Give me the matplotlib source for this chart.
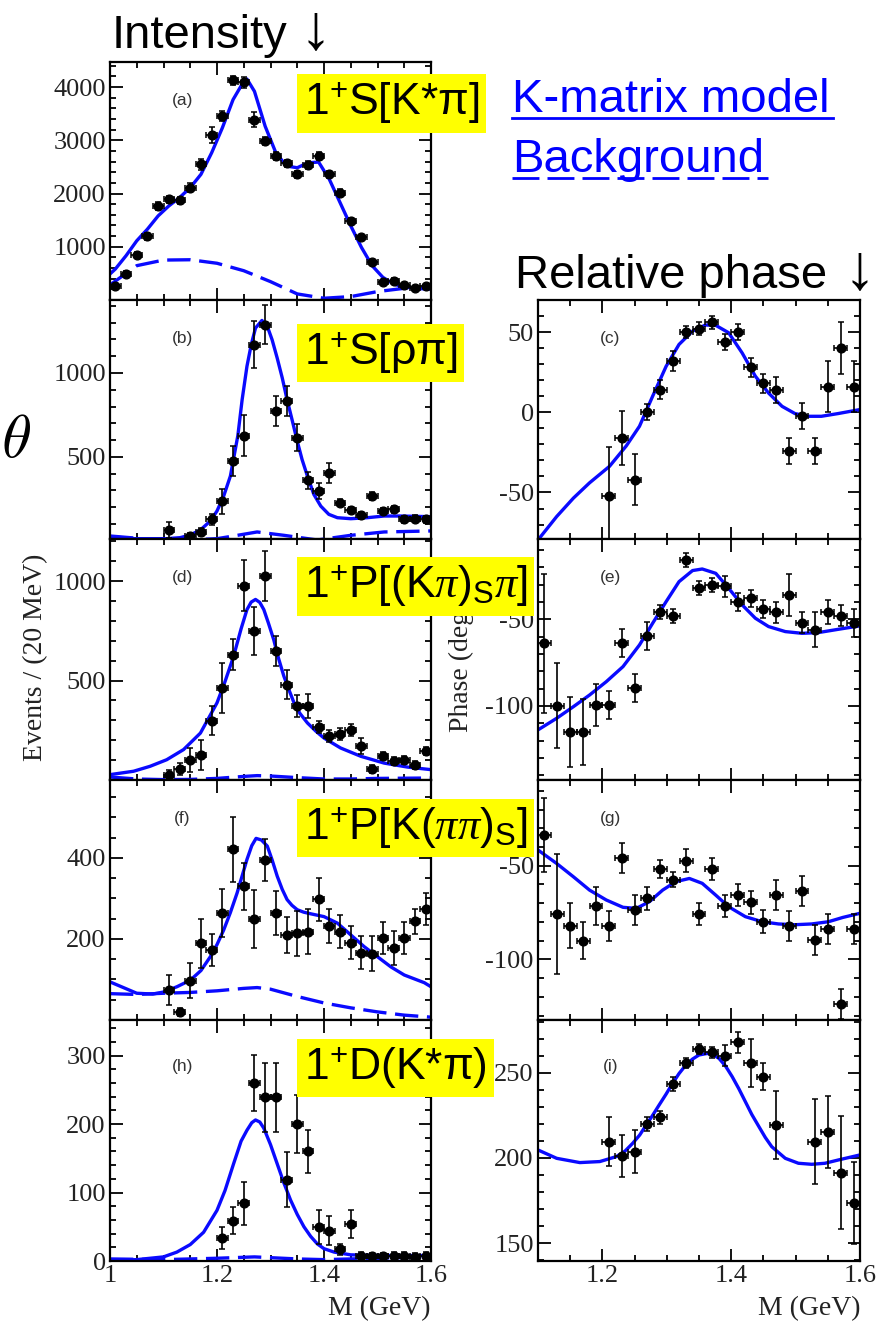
import numpy as np
import matplotlib
matplotlib.use('Agg')
import matplotlib.pyplot as plt
from matplotlib.ticker import MultipleLocator
from matplotlib.lines import Line2D

plt.rcParams['font.family'] = ['Liberation Serif', 'DejaVu Serif']
plt.rcParams['axes.unicode_minus'] = False
plt.rcParams['mathtext.fontset'] = 'custom'
plt.rcParams['mathtext.rm'] = 'Liberation Sans'
plt.rcParams['mathtext.it'] = 'Liberation Serif:italic'

SANS = ['Liberation Sans', 'DejaVu Sans']
BLUE = '#0a0aff'

# ---- data points (bin centres in GeV) ----
m_a = [1.01, 1.03, 1.05, 1.07, 1.09, 1.11, 1.13, 1.15, 1.17, 1.19, 1.21, 1.23, 1.25, 1.27, 1.29,
       1.31, 1.33, 1.35, 1.37, 1.39, 1.41, 1.43, 1.45, 1.47, 1.49, 1.51, 1.53, 1.55, 1.57, 1.59]
y_a = [258, 489, 844, 1193, 1767, 1892, 1873, 2110, 2547, 3108, 3451, 4125, 4087, 3389, 2983,
       2703, 2565, 2360, 2534, 2703, 2360, 2017, 1486, 1175, 707, 333, 364, 283, 220, 258]
e_a = [40, 50, 60, 60, 70, 70, 70, 80, 100, 150, 90, 80, 100, 140, 80,
       70, 70, 70, 80, 80, 70, 60, 60, 50, 50, 40, 40, 40, 40, 40]

m_b = [1.11, 1.15, 1.17, 1.19, 1.21, 1.23, 1.25, 1.27, 1.29, 1.31, 1.33, 1.35,
       1.37, 1.39, 1.41, 1.43, 1.45, 1.47, 1.49, 1.51, 1.53, 1.55, 1.57, 1.59]
y_b = [63, 28, 52, 127, 236, 474, 627, 1169, 1288, 772, 831, 613,
       361, 296, 405, 226, 183, 151, 266, 177, 187, 127, 131, 127]
e_b = [50, 20, 25, 35, 75, 90, 120, 140, 115, 90, 90, 80,
       50, 50, 60, 20, 20, 20, 25, 20, 20, 20, 20, 20]

m_full = [1.11, 1.13, 1.15, 1.17, 1.19, 1.21, 1.23, 1.25, 1.27, 1.29, 1.31, 1.33, 1.35,
          1.37, 1.39, 1.41, 1.43, 1.45, 1.47, 1.49, 1.51, 1.53, 1.55, 1.57, 1.59]
y_d = [27, 55, 102, 127, 299, 463, 631, 978, 748, 1025, 648, 480, 374,
       374, 265, 220, 233, 253, 173, 55, 119, 94, 102, 77, 148]
e_d = [25, 30, 60, 75, 75, 125, 80, 130, 120, 125, 75, 75, 55,
       60, 30, 30, 30, 30, 40, 20, 20, 20, 20, 20, 20]

y_f = [74, 20, 97, 189, 173, 264, 421, 330, 249, 394, 264, 210, 214,
       218, 298, 232, 218, 191, 166, 164, 202, 177, 202, 243, 274]
e_f = [37, 10, 43, 60, 40, 60, 80, 58, 72, 52, 55, 45, 55,
       55, 53, 42, 40, 40, 40, 42, 40, 42, 40, 30, 40]

m_h = [1.21, 1.23, 1.25, 1.27, 1.29, 1.31, 1.33, 1.35, 1.37, 1.39,
       1.41, 1.43, 1.45, 1.47, 1.49, 1.51, 1.53, 1.55, 1.57, 1.59]
y_h = [34, 59, 84, 260, 239, 239, 119, 200, 160, 50, 44, 17, 54, 8, 7, 7, 8, 8, 6, 8]
e_h = [16, 20, 31, 41, 50, 50, 40, 42, 31, 25, 21, 8, 20, 5, 5, 5, 5, 5, 5, 5]

y_c = [-52.5, -16, -42, 0, 14, 32, 50, 52, 56, 44, 50, 28, 18, 14, -24, -2.5, -24, 16, 40, 16]
e_c = [31, 17, 16, 5, 6, 6, 4, 4, 4, 5, 5, 6, 6, 8, 8, 8, 8, 16, 16, 16]

y_e = [-63.8, -99.8, -115, -115, -99.4, -99.4, -63.8, -89.8, -59.6, -45.6, -48, -16, -32,
       -30, -31, -40, -38, -44, -46, -36, -52, -56, -45.6, -48, -52]
e_e = [40, 24.5, 20, 19, 12, 8, 8, 8, 8, 4, 4, 4, 4, 4, 6, 5, 5, 5, 6, 12, 6, 10, 7, 6, 8]

y_g = [-33.6, -75.8, -82, -90, -71.5, -82, -45.7, -73.7, -67.4, -51.8, -57.6, -47.3, -75.8,
       -51.8, -71.5, -65.7, -69.6, -79.9, -65.7, -82.2, -63.3, -89.7, -83.8, -123.8, -83.8]
e_g = [20, 32, 12, 10, 10, 8, 8, 8, 6, 5, 4, 6, 6, 6, 6, 6, 6, 6, 8, 8, 8, 8, 8, 8, 8]

m_i = [1.21, 1.23, 1.25, 1.27, 1.29, 1.31, 1.33, 1.35, 1.37, 1.39, 1.41, 1.43, 1.45, 1.47,
       1.53, 1.55, 1.57, 1.59]
y_i = [209.6, 201.2, 203.7, 220, 223.8, 243.4, 255.5, 263.9, 261.9, 260, 267.8, 255.5, 247.7, 219.3,
       209.6, 215.4, 191.4, 173.4]
e_i = [14.5, 12.5, 12.5, 4, 4, 4, 3, 3, 3, 6, 6, 14, 8, 20, 25, 21, 33, 24]

# ---- K-matrix fit curves and backgrounds ----
fit_a_m = [1.0, 1.01, 1.03, 1.05, 1.07, 1.09, 1.11, 1.13, 1.15, 1.17, 1.19, 1.21, 1.23, 1.25, 1.256, 1.27,
           1.29, 1.31, 1.33, 1.35, 1.37, 1.39, 1.41, 1.43, 1.45, 1.47, 1.49, 1.51, 1.53, 1.55, 1.6]
fit_a = [489, 582, 832, 1112, 1331, 1580, 1767, 1923, 2110, 2360, 2765, 3233, 3763, 4106, 4150, 3919,
         3264, 2765, 2516, 2484, 2578, 2590, 2266, 1830, 1393, 988, 644, 426, 301, 239, 208]
bkg_a_m = [1.0, 1.05, 1.1, 1.15, 1.2, 1.25, 1.3, 1.35, 1.4, 1.45, 1.5, 1.55, 1.6]
bkg_a = [283, 645, 750, 756, 690, 550, 345, 114, 33, 64, 158, 220, 208]

fit_b_m = [1.0, 1.044, 1.106, 1.131, 1.15, 1.169, 1.1875, 1.2, 1.2125, 1.225, 1.239, 1.247, 1.256, 1.264,
           1.272, 1.284, 1.294, 1.303, 1.3125, 1.322, 1.331, 1.341, 1.35, 1.359, 1.369, 1.381, 1.394,
           1.409, 1.425, 1.45, 1.481, 1.5125, 1.544, 1.6]
fit_b = [24, 12, 12, 18, 34, 64, 117, 177, 266, 385, 627, 841, 1040, 1169,
         1268, 1313, 1278, 1198, 1089, 970, 841, 712, 593, 484, 385, 276, 206,
         157, 137, 131, 137, 147, 147, 143]
bkg_b_m = [1.0, 1.075, 1.144, 1.2, 1.231, 1.275, 1.325, 1.3875, 1.45, 1.5125, 1.6]
bkg_b = [28, 8, 4, 12, 28, 52, 32, 4, 32, 52, 58]

fit_d_m = [1.0, 1.044, 1.075, 1.106, 1.1375, 1.169, 1.2, 1.215, 1.231, 1.245, 1.256, 1.264, 1.272, 1.28,
           1.2875, 1.296, 1.306, 1.315, 1.325, 1.335, 1.344, 1.355, 1.369, 1.385, 1.4, 1.431, 1.469,
           1.5125, 1.556, 1.6]
fit_d = [27, 44, 69, 102, 153, 236, 388, 495, 622, 760, 857, 895, 908, 893,
         857, 790, 706, 612, 522, 450, 388, 335, 287, 245, 211, 161, 119,
         85, 65, 52]
bkg_d_m = [1.0, 1.05, 1.1, 1.15, 1.2, 1.25, 1.275, 1.3, 1.35, 1.4, 1.45, 1.5, 1.6]
bkg_d = [15, 5, 2, 3, 8, 18, 22, 20, 12, 5, 5, 8, 10]

fit_f_m = [1.0, 1.05, 1.08, 1.1, 1.125, 1.15, 1.17, 1.1875, 1.2, 1.2125, 1.225, 1.2375, 1.248, 1.256,
           1.265, 1.273, 1.283, 1.294, 1.303, 1.3125, 1.322, 1.331, 1.34, 1.35, 1.362, 1.375, 1.4,
           1.425, 1.45, 1.475, 1.5, 1.525, 1.55, 1.5875, 1.6]
fit_f = [94, 66, 64, 69, 82, 98, 122, 156, 186, 222, 265, 313, 360, 396,
         430, 448, 444, 429, 395, 355, 322, 297, 283, 272, 266, 262, 255,
         239, 210, 181, 156, 131, 111, 92, 82]
bkg_f_m = [1.0, 1.05, 1.1, 1.15, 1.2, 1.25, 1.275, 1.3, 1.35, 1.4, 1.45, 1.5, 1.55, 1.6]
bkg_f = [65, 63, 66, 68, 72, 78, 80, 76, 58, 42, 30, 20, 12, 7]

fit_h_m = [1.0, 1.05, 1.1, 1.125, 1.15, 1.175, 1.2, 1.215, 1.231, 1.245, 1.256, 1.265, 1.272, 1.28,
           1.2875, 1.3, 1.3125, 1.325, 1.3375, 1.35, 1.3625, 1.375, 1.3875, 1.4, 1.419, 1.45,
           1.5125, 1.6]
fit_h = [1, 2, 6, 13, 24, 42, 74, 103, 142, 175, 191, 202, 206, 203,
         194, 170, 142, 114, 89, 68, 50, 36, 25, 18, 13, 9,
         8, 8]
bkg_h_m = [1.0, 1.1, 1.2, 1.27, 1.35, 1.4, 1.5, 1.6]
bkg_h = [3, 2, 4, 6, 3, 2, 4, 6]

fit_c_m = [1.1, 1.129, 1.155, 1.18, 1.211, 1.237, 1.2576, 1.278, 1.299, 1.319, 1.34, 1.36, 1.376,
           1.396, 1.417, 1.4375, 1.458, 1.479, 1.499, 1.52, 1.54, 1.566, 1.6]
fit_c = [-79.6, -65, -53.5, -44, -33.7, -21, -8.7, 10, 28.7, 42.3, 50.6, 54.4, 54.2,
         49.6, 37, 22.5, 12, 3.7, -0.8, -2.5, -2.5, -0.8, 1.7]

fit_e_m = [1.1, 1.129, 1.155, 1.18, 1.206, 1.232, 1.2576, 1.278, 1.299, 1.319, 1.34, 1.355, 1.376,
           1.396, 1.417, 1.4375, 1.458, 1.484, 1.51, 1.535, 1.566, 1.6]
fit_e = [-113.8, -107.1, -100.4, -93.7, -86, -77.3, -64.8, -52.3, -39.8, -28.3, -21.9, -21, -23.5,
         -32.1, -41.7, -49.4, -54.2, -57.1, -58.1, -57.7, -55.8, -53.8]

fit_g_m = [1.1, 1.129, 1.155, 1.18, 1.206, 1.232, 1.2525, 1.273, 1.2936, 1.314, 1.335, 1.355, 1.376,
           1.396, 1.422, 1.448, 1.4735, 1.499, 1.525, 1.551, 1.5735, 1.6]
fit_g = [-41.6, -48.8, -55.9, -63, -68.3, -72.2, -72.8, -69.2, -63, -58.5, -56.8, -59.4, -65.7,
         -71.9, -77.2, -79.9, -81.1, -81.5, -81.1, -79.9, -77.6, -75.4]

fit_i_m = [1.1, 1.129, 1.165, 1.196, 1.2216, 1.235, 1.247, 1.258, 1.268, 1.278, 1.288, 1.299, 1.309,
           1.319, 1.3296, 1.34, 1.35, 1.363, 1.372, 1.381, 1.391, 1.4015, 1.412, 1.422, 1.432, 1.443,
           1.453, 1.463, 1.484, 1.5044, 1.525, 1.5456, 1.566, 1.6]
fit_i = [204.7, 199.8, 197.3, 197.9, 200.8, 204, 208.6, 213.5, 219.3, 225, 231, 237.5, 243.8,
         249.5, 254.5, 258, 260.4, 261.3, 260.5, 258.4, 254, 247.7, 240.5, 233, 225.5, 218.4,
         212, 206.6, 199.8, 196.9, 196.3, 196.9, 198.8, 201.8]

W, H = 881, 1321
fig = plt.figure(figsize=(W / 100, H / 100), dpi=100)


def rect(x0, top, x1, bottom):
    return [x0 / W, 1 - bottom / H, (x1 - x0) / W, (bottom - top) / H]


def panel(r, xlim, ylim, yticks, yminor, pts, fit, bkg, tag, tag_y=0.84, bottom=False):
    ax = fig.add_axes(r)
    if bkg is not None:
        ax.plot(bkg[0], bkg[1], color=BLUE, lw=2.4, dashes=(7, 2.6))
    ax.plot(fit[0], fit[1], color=BLUE, lw=2.4, solid_joinstyle='round')
    ax.errorbar(pts[0], pts[1], xerr=0.01, yerr=pts[2], fmt='o', color='black', ms=6.3,
                elinewidth=1.2, capsize=2.2, capthick=1.1, zorder=3)
    ax.set_xlim(*xlim)
    ax.set_ylim(*ylim)
    ax.set_yticks(yticks)
    ax.yaxis.set_minor_locator(MultipleLocator(yminor))
    if xlim[0] < 1.05:
        ax.set_xticks([1.0, 1.2, 1.4, 1.6])
        xl = ['1', '1.2', '1.4', '1.6']
    else:
        ax.set_xticks([1.2, 1.4, 1.6])
        xl = ['1.2', '1.4', '1.6']
    ax.set_xticklabels(xl if bottom else [])
    ax.xaxis.set_minor_locator(MultipleLocator(0.05))
    ax.tick_params(which='both', direction='in', top=True, right=True, width=1.3,
                   labelsize=19, labelcolor='#222', pad=3)
    ax.tick_params(which='major', length=9)
    ax.tick_params(which='minor', length=4.5)
    for s in ax.spines.values():
        s.set_linewidth(1.6)
    ax.text(0.225, tag_y, tag, transform=ax.transAxes, fontsize=12.5, family=SANS,
            color='#333', ha='center', va='center')
    return ax


rows = [(62, 300), (300, 539), (539, 780), (780, 1020), (1020, 1261)]
L = (110, 431)
R = (538, 860)

panel(rect(L[0], rows[0][0], L[1], rows[0][1]), (1.0, 1.6), (0, 4470), [1000, 2000, 3000, 4000], 200,
      (m_a, y_a, e_a), (fit_a_m, fit_a), (bkg_a_m, bkg_a), '(a)')
panel(rect(L[0], rows[1][0], L[1], rows[1][1]), (1.0, 1.6), (10, 1435), [500, 1000], 100,
      (m_b, y_b, e_b), (fit_b_m, fit_b), (bkg_b_m, bkg_b), '(b)')
panel(rect(L[0], rows[2][0], L[1], rows[2][1]), (1.0, 1.6), (0, 1212), [500, 1000], 100,
      (m_full, y_d, e_d), (fit_d_m, fit_d), (bkg_d_m, bkg_d), '(d)')
panel(rect(L[0], rows[3][0], L[1], rows[3][1]), (1.0, 1.6), (0, 592), [200, 400], 50,
      (m_full, y_f, e_f), (fit_f_m, fit_f), (bkg_f_m, bkg_f), '(f)')
panel(rect(L[0], rows[4][0], L[1], rows[4][1]), (1.0, 1.6), (0, 352), [0, 100, 200, 300], 20,
      (m_h, y_h, e_h), (fit_h_m, fit_h), (bkg_h_m, bkg_h), '(h)', tag_y=0.805, bottom=True)

panel(rect(R[0], rows[1][0], R[1], rows[1][1]), (1.1, 1.6), (-79, 70), [-50, 0, 50], 10,
      (m_h, y_c, e_c), (fit_c_m, fit_c), None, '(c)')
panel(rect(R[0], rows[2][0], R[1], rows[2][1]), (1.1, 1.6), (-142.7, -3.7), [-100, -50], 10,
      (m_full, y_e, e_e), (fit_e_m, fit_e), None, '(e)')
panel(rect(R[0], rows[3][0], R[1], rows[3][1]), (1.1, 1.6), (-132.4, -4.2), [-100, -50], 10,
      (m_full, y_g, e_g), (fit_g_m, fit_g), None, '(g)')
panel(rect(R[0], rows[4][0], R[1], rows[4][1]), (1.1, 1.6), (139.6, 280.9), [150, 200, 250], 10,
      (m_i, y_i, e_i), (fit_i_m, fit_i), None, '(i)', tag_y=0.805, bottom=True)

# axis labels
fig.text(36 / W, 1 - 657 / H, 'Events / (20 MeV)', rotation=90, fontsize=20, color='#222',
         ha='center', va='center')
fig.text(461 / W, 1 - 667 / H, 'Phase (deg)', rotation=90, fontsize=20, color='#222',
         ha='center', va='center')
fig.text(L[1] / W, 1 - 1315 / H, 'M (GeV)', fontsize=20, color='#222', ha='right', va='baseline')
fig.text(R[1] / W, 1 - 1315 / H, 'M (GeV)', fontsize=20, color='#222', ha='right', va='baseline')

# headings (arrow drawn a bit larger, like the original)
fig.text(112 / W, 1 - 48 / H, 'Intensity', fontsize=34, family=SANS, va='baseline')
fig.text(316 / W, 1 - 48 / H, '↓', fontsize=46, family=SANS, va='baseline', ha='center')
fig.text(515 / W, 1 - 288 / H, 'Relative phase', fontsize=34, family=SANS, va='baseline')
fig.text(860 / W, 1 - 288 / H, '↓', fontsize=46, family=SANS, va='baseline', ha='center')

# legend
fig.text(512 / W, 1 - 112 / H, 'K-matrix model', fontsize=34, family=SANS, color='blue', va='baseline')
fig.text(512 / W, 1 - 172 / H, 'Background', fontsize=34, family=SANS, color='blue', va='baseline')
fig.add_artist(Line2D([512 / W, 833 / W], [1 - 117.5 / H] * 2, transform=fig.transFigure,
                      color='blue', lw=2))
fig.add_artist(Line2D([512 / W, 768 / W], [1 - 177.5 / H] * 2, transform=fig.transFigure,
                      color='blue', lw=2, dashes=(9.7, 2.9)))

fig.text(1 / W, 1 - 442 / H, r'$\theta$', fontsize=44, math_fontfamily='cm', ha='left', va='center')

# wave labels
wave_labels = ['1$^{+}$S[K*π]', '1$^{+}$S[ρπ]', r'1$^{+}$P[(K$\pi$)$_{\mathrm{S}}\pi$]',
               r'1$^{+}$P[K($\pi\pi$)$_{\mathrm{S}}$]', '1$^{+}$D(K*π)']
wave_base = [115, 364.7, 598, 839.7, 1079.7]
for lab, yb in zip(wave_labels, wave_base):
    fig.text(304 / W, 1 - yb / H, lab, fontsize=32, family=SANS, va='baseline', zorder=10,
             bbox=dict(boxstyle='square,pad=0.15', fc='#ffff00', ec='none'))

fig.savefig('out.png', dpi=100)
